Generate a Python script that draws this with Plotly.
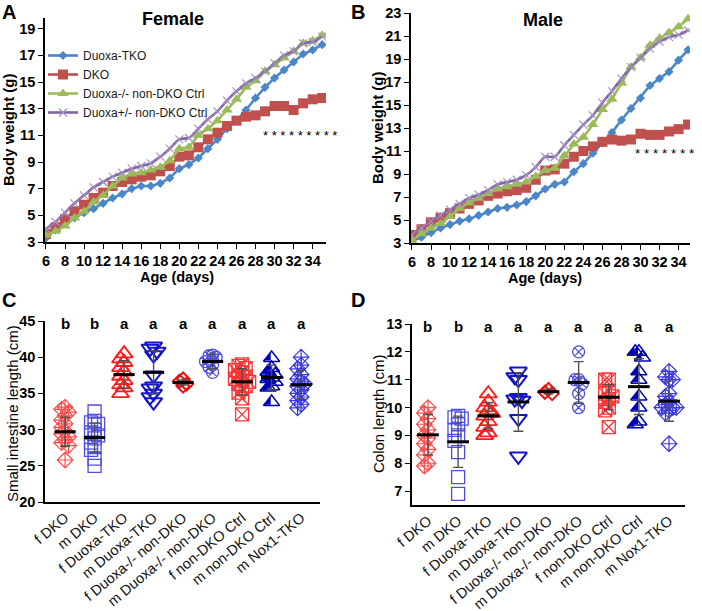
import plotly.graph_objects as go
import numpy as np

# ---------------- data: body weight (A female, B male) ----------------
days = list(range(6, 36))

f_tko = [3.3, 3.9, 4.4, 4.8, 5.2, 5.5, 5.9, 6.3, 6.6, 7.0, 7.2, 7.2, 7.4, 7.8, 8.5,
         8.8, 9.3, 10.0, 10.7, 11.5, 12.1, 12.9, 13.8, 14.6, 15.3, 15.9, 16.5, 17.1, 17.4, 17.8]
f_dko = [3.6, 4.1, 4.7, 5.3, 5.8, 6.3, 6.7, 7.2, 7.5, 7.7, 7.9, 8.0, 8.3, 8.7, 9.4,
         9.5, 10.1, 10.7, 11.2, 11.7, 12.1, 12.4, 12.5, 12.8, 13.2, 13.2, 12.9, 13.4, 13.7, 13.8]
f_ko_ctrl = [3.5, 3.8, 4.2, 4.8, 5.3, 6.0, 6.5, 7.2, 7.8, 8.1, 8.2, 8.4, 8.6, 9.1, 10.0,
             10.1, 11.0, 11.5, 12.1, 12.9, 13.7, 14.6, 15.1, 15.8, 16.3, 16.8, 17.3, 17.9, 18.1, 18.5]
f_het_ctrl = [4.0, 4.5, 5.2, 5.9, 6.5, 7.1, 7.5, 7.9, 8.2, 8.5, 8.7, 8.9, 9.4, 10.0, 10.7,
              10.8, 11.5, 12.2, 12.8, 13.6, 14.3, 14.9, 15.3, 15.8, 16.4, 17.0, 17.3, 17.9, 18.0, 18.4]

m_tko = [3.2, 3.5, 3.9, 4.3, 4.6, 4.9, 5.1, 5.4, 5.7, 6.0, 6.1, 6.3, 6.6, 7.1, 7.7,
         8.1, 8.3, 9.2, 9.9, 10.8, 11.7, 12.6, 13.7, 14.7, 15.6, 16.7, 17.3, 17.9, 18.9, 19.8]
m_dko = [3.7, 4.2, 4.8, 5.2, 5.6, 6.0, 6.4, 6.7, 7.1, 7.3, 7.5, 7.6, 7.8, 8.5, 9.3,
         9.4, 9.9, 10.5, 11.0, 11.4, 11.8, 12.0, 11.9, 12.0, 12.5, 12.4, 12.4, 12.7, 12.9, 13.3]
m_ko_ctrl = [3.2, 3.8, 4.3, 4.7, 5.3, 6.0, 6.5, 6.9, 7.3, 7.7, 7.9, 8.1, 8.3, 8.8, 9.3,
             9.5, 10.6, 11.6, 12.2, 13.3, 14.6, 15.5, 16.9, 18.3, 19.1, 20.2, 20.8, 21.3, 21.8, 22.5]
m_het_ctrl = [3.7, 4.3, 4.9, 5.4, 5.9, 6.4, 6.9, 7.2, 7.6, 8.1, 8.3, 8.5, 8.9, 9.6, 10.5,
              10.5, 11.5, 12.4, 13.3, 14.1, 15.2, 16.2, 17.3, 18.3, 19.1, 19.9, 20.5, 20.9, 21.1, 21.5]

series_names = ["Duoxa-TKO", "DKO", "Duoxa-/- non-DKO Ctrl", "Duoxa+/- non-DKO Ctrl"]
age_ticks = list(range(6, 36, 2))

# ---------------- data: small intestine (C) and colon (D) ----------------
groups = ["f DKO", "m DKO", "f Duoxa-TKO", "m Duoxa-TKO", "f Duoxa-/- non-DKO",
          "m Duoxa-/- non-DKO", "f non-DKO Ctrl", "m non-DKO Ctrl", "m Nox1-TKO"]
letters = ["b", "b", "a", "a", "a", "a", "a", "a", "a"]

si_points = [
    [33.1, 32.8, 32.4, 31.9, 31.3, 30.8, 30.3, 29.8, 29.4, 29.0, 28.6, 28.2, 27.8, 25.8],
    [32.5, 31.2, 31.0, 30.8, 30.0, 29.6, 29.2, 28.8, 28.2, 27.6, 27.2, 26.0, 25.0],
    [40.5, 39.8, 39.3, 38.6, 38.0, 37.4, 36.8, 36.2, 35.8, 35.0],
    [41.5, 41.2, 40.8, 40.3, 37.5, 36.0, 35.7, 35.0, 34.5, 33.8],
    [37.0, 36.7, 36.3, 36.0],
    [40.3, 40.2, 40.0, 39.4, 39.0, 38.6, 37.9],
    [39.0, 38.8, 38.5, 38.2, 37.9, 37.5, 37.3, 37.0, 36.8, 36.6, 36.3, 36.0, 35.6, 35.1, 34.3, 32.1],
    [39.9, 38.5, 38.0, 37.6, 37.2, 37.0, 36.6, 36.0, 35.8, 33.8],
    [40.0, 38.9, 38.4, 37.6, 37.0, 36.6, 36.3, 36.0, 35.5, 35.0, 34.5, 34.0, 33.5, 33.0],
]
si_mean = [29.7, 28.9, 37.6, 37.9, 36.5, 39.4, 36.6, 37.2, 36.2]
si_sd = [2.0, 2.0, 1.9, 2.95, 0.35, 1.0, 1.8, 1.7, 2.0]

colon_points = [
    [10.0, 9.8, 9.6, 9.4, 9.2, 9.0, 8.9, 8.7, 8.5, 8.3, 8.0, 7.9],
    [9.7, 9.65, 9.6, 9.4, 9.2, 9.0, 8.8, 8.4, 7.5, 6.9],
    [10.5, 10.2, 10.0, 9.9, 9.8, 9.7, 9.5, 9.3, 9.1, 9.0],
    [11.3, 11.1, 11.0, 10.35, 10.3, 10.25, 9.6, 8.25],
    [10.65, 10.55, 10.5],
    [12.0, 11.0, 11.0, 10.85, 10.5, 10.0],
    [11.0, 11.0, 10.6, 10.5, 10.4, 10.3, 10.2, 10.0, 9.9, 9.3],
    [12.0, 12.0, 11.8, 11.3, 11.0, 10.4, 10.0, 9.5, 9.4],
    [11.3, 11.1, 11.0, 11.0, 10.5, 10.4, 10.2, 10.1, 10.0, 10.0, 10.0, 9.9, 9.8, 8.7],
]
colon_mean = [9.02, 8.77, 9.7, 10.2, 10.57, 10.9, 10.37, 10.75, 10.23]
colon_sd = [0.73, 0.92, 0.47, 1.05, 0.08, 0.75, 0.45, 1.0, 0.72]

# ---------------- styling ----------------
W, H = 702, 611
FONT = "Liberation Sans, Arial, sans-serif"

def xd(a, b):
    return [a / W, b / W]

def yd(top, bottom):
    return [1 - bottom / H, 1 - top / H]

line_styles = [
    dict(color="#4A86C8", symbol="diamond", size=7, mcolor="#4A86C8", mline=0),
    dict(color="#C0504D", symbol="square", size=10, mcolor="#C0504D", mline=0),
    dict(color="#9BBB59", symbol="triangle-up", size=10, mcolor="#9BBB59", mline=0),
    dict(color="#8064A2", symbol="x-thin", size=8, mcolor="#A592C4", mline=1.2),
]

group_styles = [
    dict(symbol="diamond-cross-open", color="#FF4D4D", size=12, lw=1.2),
    dict(symbol="square-open", color="#4D4DE6", size=13, lw=1.3),
    dict(symbol="triangle-up-open", color="#FF1A1A", size=15, lw=1.8),
    dict(symbol="triangle-down-open", color="#1414C8", size=15, lw=2.0),
    dict(symbol="diamond-open", color="#EE1111", size=10, lw=2.0),
    dict(symbol="circle-x-open", color="#4D4DE6", size=12, lw=1.3),
    dict(symbol="square-x-open", color="#FF3333", size=13, lw=1.3),
    dict(symbol="triangle-up-open", color="#0000B4", size=14, lw=1.5),
    dict(symbol="diamond-cross-open", color="#3A3AE0", size=12, lw=1.2),
]

fig = go.Figure()

# ---- A & B line charts ----
for panel, (xa, ya, data) in enumerate([
        ("x", "y", [f_tko, f_dko, f_ko_ctrl, f_het_ctrl]),
        ("x2", "y2", [m_tko, m_dko, m_ko_ctrl, m_het_ctrl])]):
    for k, (name, vals, st) in enumerate(zip(series_names, data, line_styles)):
        fig.add_trace(go.Scatter(
            x=days, y=vals, name=name, mode="lines+markers",
            xaxis=xa, yaxis=ya,
            line=dict(color=st["color"], width=2.6, shape="spline" if k == 3 else "linear",
                      smoothing=0.8),
            marker=dict(symbol=st["symbol"], size=st["size"], color=st["mcolor"],
                        line=dict(width=st["mline"], color=st["mcolor"])),
            showlegend=(panel == 0), legendgroup=name,
        ))

# ---- C & D dot plots ----
def swarm(vals, thr, step=0.12, nmax=2):
    order = np.argsort(vals)[::-1]
    offs = np.zeros(len(vals))
    placed = []
    slots = [0]
    for s in range(1, nmax + 1):
        slots += [-s, s]
    for idx in order:
        v = vals[idx]
        chosen = slots[-1]
        for s in slots:
            if all(not (ps == s and abs(pv - v) < thr) for pv, ps in placed):
                chosen = s
                break
        placed.append((v, chosen))
        offs[idx] = chosen * step
    return offs

for (xa, ya, pts, means, sds, thr, pxcat) in [
        ("x3", "y3", si_points, si_mean, si_sd, 0.9, 29.5),
        ("x4", "y4", colon_points, colon_mean, colon_sd, 0.28, 30.1)]:
    for i, (vals, st) in enumerate(zip(pts, group_styles)):
        offs = swarm(vals, thr)
        xs = [i + o for o in offs]
        fig.add_trace(go.Scatter(
            x=xs, y=vals, mode="markers", xaxis=xa, yaxis=ya, showlegend=False,
            marker=dict(symbol=st["symbol"], size=st["size"], color=st["color"],
                        line=dict(width=st["lw"], color=st["color"])),
        ))
        if i == 7:  # half-filled triangles: fill the left half
            r = st["size"] / 2.0
            shift = 0.5 * r / pxcat
            fig.add_trace(go.Scatter(
                x=[x - shift for x in xs], y=vals, mode="markers", xaxis=xa, yaxis=ya,
                showlegend=False,
                marker=dict(symbol="triangle-se", size=st["size"] * 0.62,
                            color=st["color"], line=dict(width=0)),
            ))
    cats = list(range(len(groups)))
    # error bars (mean +/- SD)
    fig.add_trace(go.Scatter(
        x=cats, y=means, mode="markers", xaxis=xa, yaxis=ya, showlegend=False,
        marker=dict(size=1, color="rgba(0,0,0,0)"),
        error_y=dict(type="data", array=sds, visible=True, color="#505050",
                     thickness=1.4, width=5),
    ))
    # mean lines
    for i, m in enumerate(means):
        fig.add_trace(go.Scatter(
            x=[i - 0.36, i + 0.36], y=[m, m], mode="lines", xaxis=xa, yaxis=ya,
            showlegend=False, line=dict(color="black", width=3),
        ))

# ---------------- axes ----------------
axis_common = dict(showline=True, linecolor="black", linewidth=1.6, ticks="outside",
                   tickcolor="black", tickwidth=1.4, ticklen=5, showgrid=False,
                   zeroline=False, automargin=False)
cat_common = dict(showline=True, linecolor="black", linewidth=1.6, ticks="",
                  showgrid=False, zeroline=False, automargin=False, tickangle=-40)
bold_tick = dict(family=FONT, size=14.5, color="black", weight="bold")
cat_tick = dict(family=FONT, size=14.5, color="#111111")

fig.update_layout(
    template="none",
    xaxis=dict(domain=xd(45, 326), range=[5.9, 35.4], tickvals=age_ticks, anchor="y",
               tickfont=bold_tick, **axis_common),
    yaxis=dict(domain=yd(18, 242), range=[3, 19.8], tickvals=list(range(3, 20, 2)),
               anchor="x", tickfont=bold_tick, **axis_common),
    xaxis2=dict(domain=xd(411, 690), range=[5.9, 35.2], tickvals=age_ticks, anchor="y2",
                tickfont=bold_tick, **axis_common),
    yaxis2=dict(domain=yd(13, 243), range=[3, 23], tickvals=list(range(3, 24, 2)),
                anchor="x2", tickfont=bold_tick, **axis_common),
    xaxis3=dict(domain=xd(45, 320), range=[-0.68, 8.64], tickvals=list(range(9)),
                ticktext=groups, anchor="y3", tickfont=cat_tick, **cat_common),
    yaxis3=dict(domain=yd(321, 502), range=[20, 45], tickvals=list(range(20, 46, 5)),
                anchor="x3", tickfont=bold_tick, **axis_common),
    xaxis4=dict(domain=xd(412, 685), range=[-0.53, 8.53], tickvals=list(range(9)),
                ticktext=groups, anchor="y4", tickfont=cat_tick, **cat_common),
    yaxis4=dict(domain=yd(324, 505), range=[6.5, 13], tickvals=list(range(7, 14)),
                anchor="x4", tickfont=bold_tick, **axis_common),
)

# ---------------- annotations ----------------
ann = []

def paper_text(text, px, py, size, bold=True, angle=0, xanchor="center"):
    ann.append(dict(text=text, x=px / W, y=1 - py / H, xref="paper", yref="paper",
                    showarrow=False, textangle=angle, xanchor=xanchor, yanchor="middle",
                    font=dict(family=FONT, size=size, color="black",
                              weight="bold" if bold else "normal")))

paper_text("A", 9, 12, 20)
paper_text("B", 358, 12, 20)
paper_text("C", 9, 300, 20)
paper_text("D", 358, 300, 20)
paper_text("Female", 173, 19, 18)
paper_text("Male", 543, 20, 18)
paper_text("Age (days)", 177, 277, 14.5)
paper_text("Age (days)", 545, 278, 14.5)
paper_text("Body weight (g)", 9, 130, 15, angle=-90)
paper_text("Body weight (g)", 377, 128, 15, angle=-90)
paper_text("Small intestine length (cm)", 12, 414, 15, bold=False, angle=-90)
paper_text("Colon length (cm)", 378, 414, 15, bold=False, angle=-90)

ann.append(dict(text="* * * * * * * * *", x=32.7, y=11.0, xref="x", yref="y",
                showarrow=False, font=dict(family=FONT, size=13, color="black")))
ann.append(dict(text="* * * * * * *", x=32.6, y=10.8, xref="x2", yref="y2",
                showarrow=False, font=dict(family=FONT, size=13.5, color="black")))

for i, l in enumerate(letters):
    ann.append(dict(text=l, x=i, y=44.6, xref="x3", yref="y3", showarrow=False,
                    font=dict(family=FONT, size=15, color="black", weight="bold")))
    ann.append(dict(text=l, x=i, y=12.9, xref="x4", yref="y4", showarrow=False,
                    font=dict(family=FONT, size=15, color="black", weight="bold")))

fig.update_layout(
    annotations=ann,
    width=W, height=H,
    margin=dict(l=0, r=0, t=0, b=0, pad=0),
    paper_bgcolor="white", plot_bgcolor="white",
    font=dict(family=FONT, color="black"),
    showlegend=True,
    legend=dict(x=43 / W, y=1 - 41 / H, xanchor="left", yanchor="top",
                bgcolor="rgba(0,0,0,0)", font=dict(family=FONT, size=12, color="#1a1a1a"),
                itemwidth=30, tracegroupgap=0),
)

fig.write_html("out.html", config={"displayModeBar": False},
               post_script="document.body.style.margin='0';document.body.style.overflow='hidden';")
